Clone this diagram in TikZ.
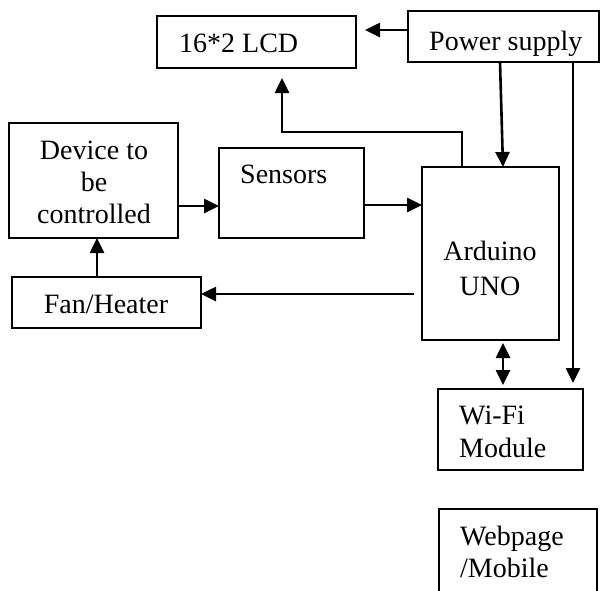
\documentclass[tikz,border=0pt]{standalone}
\usepackage{fontspec}
\setmainfont{Liberation Serif}
\usetikzlibrary{arrows.meta}
\begin{document}
\begin{tikzpicture}[x=1pt,y=-1pt,
  box/.style={draw,line width=1.7pt,inner sep=0pt,outer sep=0pt,anchor=north west},
  txt/.style={inner sep=0pt,font=\fontsize{28}{32}\selectfont},
  arr/.style={line width=2.6pt,-{Triangle[length=15pt,width=14pt]}},
  darr/.style={line width=2.6pt,{Triangle[length=15pt,width=14pt]}-{Triangle[length=15pt,width=14pt]}}
]
\useasboundingbox (0,0) rectangle (601,590);
\clip (0,0) rectangle (601,590);
% boxes
\node[box,minimum width=199pt,minimum height=52pt] (lcd) at (157,16) {};
\node[box,minimum width=191pt,minimum height=51pt] (pwr) at (408,11) {};
\node[box,minimum width=169pt,minimum height=115pt] (dev) at (9,123) {};
\node[box,minimum width=145pt,minimum height=90pt] (sens) at (219,148) {};
\node[box,minimum width=189pt,minimum height=51pt] (fan) at (12,277) {};
\node[box,minimum width=137pt,minimum height=173pt] (ard) at (422,167) {};
\node[box,minimum width=145pt,minimum height=81pt] (wifi) at (438,389) {};
\node[box,minimum width=158pt,minimum height=110pt] (web) at (439,509) {};
% texts
\node[txt,anchor=base west] (tlcd) at (179,52) {16*2 LCD};
\node[txt,anchor=base west] (tpwr) at (429,50) {Power supply};
\node[txt,anchor=base] (tdev1) at (94,159) {Device to};
\node[txt,anchor=base] (tdev2) at (94,191) {be};
\node[txt,anchor=base] (tdev3) at (94,223) {controlled};
\node[txt,anchor=base west] (tsens) at (240,183) {Sensors};
\node[txt,anchor=base] (tfan) at (106,313) {Fan/Heater};
\node[txt,anchor=base] (tard1) at (490,260) {Arduino};
\node[txt,anchor=base] (tard2) at (490,295) {UNO};
\node[txt,anchor=base west] (twifi1) at (459,424) {Wi-Fi};
\node[txt,anchor=base west] (twifi2) at (459,457) {Module};
\node[txt,anchor=base west] (tweb1) at (460,545) {Webpage};
\node[txt,anchor=base west] (tweb2) at (460,577) {/Mobile};
% connectors
\draw[arr,shorten >=9pt] (pwr.west |- 0,30) -- (lcd.east |- 0,30);
\draw[arr] (pwr.south -| 500,0) -- (ard.north -| 503,0);
\draw[arr,shorten >=6pt] (pwr.south -| 573,0) -- (wifi.north -| 573,0);
\draw[arr,shorten >=10pt] (ard.north -| 462,0) |- (282,132) -- (lcd.south -| 282,0);
\draw[arr] (sens.east |- 0,205) -- (ard.west |- 0,205);
\draw[arr] (dev.east |- 0,206) -- (sens.west |- 0,206);
\draw[arr] (fan.north -| 97,0) -- (dev.south -| 97,0);
\draw[arr,shorten <=8pt] (ard.west |- 0,294) -- (fan.east |- 0,294);
\draw[darr,shorten <=3pt,shorten >=4pt] (ard.south -| 503,0) -- (wifi.north -| 503,0);
\end{tikzpicture}
\end{document}
